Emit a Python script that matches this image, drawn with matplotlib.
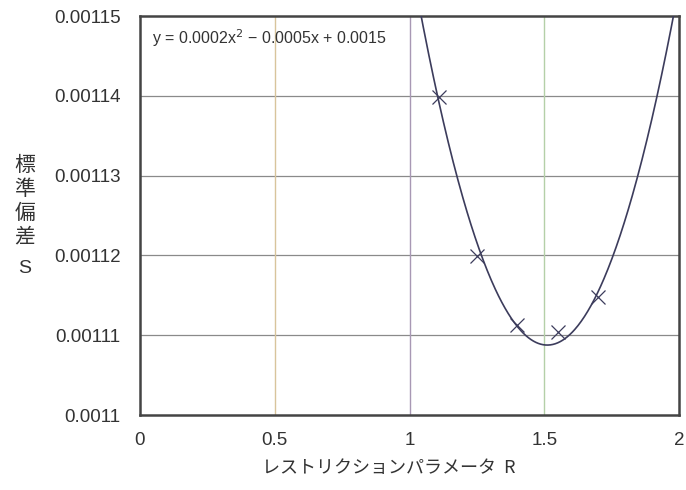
import matplotlib

matplotlib.use("Agg")
import matplotlib.pyplot as plt
import numpy as np

plt.rcParams["font.family"] = ["Liberation Sans", "Noto Sans CJK JP", "DejaVu Sans"]

# measured points (restriction parameter R vs standard deviation S)
r_values = [1.11, 1.25, 1.40, 1.55, 1.70]
s_values = [0.0011399, 0.0011199, 0.0011113, 0.0011104, 0.0011148]

x_ticks = [0, 0.5, 1, 1.5, 2]
x_tick_labels = ["0", "0.5", "1", "1.5", "2"]
y_ticks = [0.0011, 0.00111, 0.00112, 0.00113, 0.00114, 0.00115]
y_tick_labels = ["0.0011", "0.00111", "0.00112", "0.00113", "0.00114", "0.00115"]
v_grid_colors = ["#d8c49c", "#a898b4", "#b4d0a8"]

C_MARK = "#3c3c5c"
JP = ["Noto Sans CJK JP", "DejaVu Sans"]

fig = plt.figure(figsize=(6.86, 4.90), dpi=100)
ax = fig.add_axes([0.204, 0.153, 0.786, 0.814])

# quadratic trendline, as the spreadsheet draws it
coef = np.polyfit(r_values, s_values, 2)
xs = np.linspace(0.9, 2.1, 400)
ax.plot(xs, np.polyval(coef, xs), color=C_MARK, lw=1.2, zorder=3)
ax.plot(r_values, s_values, ls="none", marker="x", ms=10, mew=0.9,
        color=C_MARK, zorder=4)

for yv in y_ticks[1:-1]:
    ax.axhline(yv, color="#8a8a8a", lw=0.9, zorder=1)
for xv, c in zip(x_ticks[1:-1], v_grid_colors):
    ax.axvline(xv, color=c, lw=1.0, zorder=1)

ax.set_xlim(0, 2)
ax.set_ylim(0.0011, 0.00115)
ax.set_xticks(x_ticks, x_tick_labels)
ax.set_yticks(y_ticks, y_tick_labels)
ax.tick_params(length=0, labelsize=13.5, colors="#333333")
ax.tick_params(axis="x", pad=12)
ax.tick_params(axis="y", pad=14)
for sp in ax.spines.values():
    sp.set_linewidth(1.8)
    sp.set_color("#444444")

ax.text(0.022, 0.945, "y = 0.0002x$^2$ − 0.0005x + 0.0015", transform=ax.transAxes,
        fontsize=11.5, color="#333333", va="center")

fig.text(0.566, 0.045, "レストリクションパラメータ  R", ha="center", va="center",
         fontsize=13, color="#333333", family=JP)
fig.text(0.036, 0.59, "標\n準\n偏\n差", ha="center", va="center",
         fontsize=15, color="#333333", linespacing=1.1, family=JP)
fig.text(0.036, 0.453, "S", ha="center", va="center",
         fontsize=14, color="#333333")

fig.savefig("out.png", dpi=100, facecolor="white")
